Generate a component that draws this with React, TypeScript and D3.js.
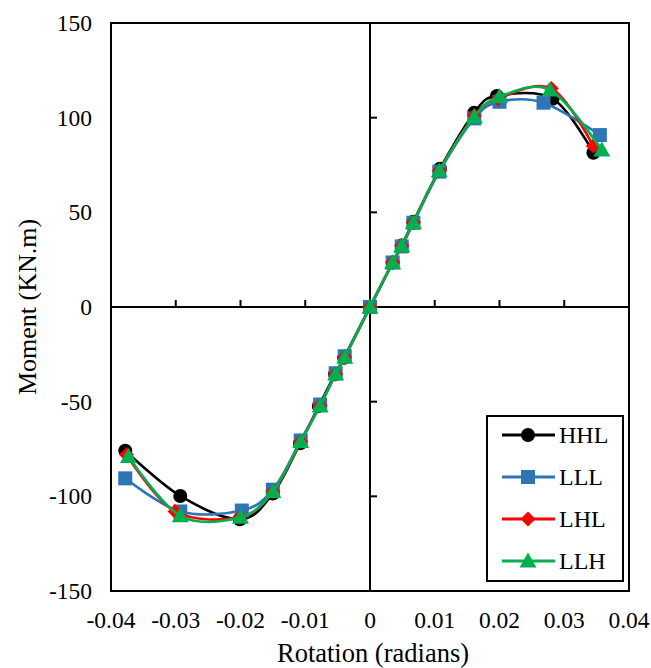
import React from "react";
import * as d3 from "d3";

const xTicks = [-0.04, -0.03, -0.02, -0.01, 0, 0.01, 0.02, 0.03, 0.04];
const xTickLabels = ["-0.04", "-0.03", "-0.02", "-0.01", "0", "0.01", "0.02", "0.03", "0.04"];
const yTicks = [-150, -100, -50, 0, 50, 100, 150];
const yTickLabels = ["-150", "-100", "-50", "0", "50", "100", "150"];

const seriesNames = ["HHL", "LLL", "LHL", "LLH"];
const seriesColors = ["#000000", "#2E75B6", "#FF0000", "#00B050"];
const seriesMarkers = ["circle", "square", "diamond", "triangle"];

const hhlX = [-0.0378, -0.0293, -0.0201, -0.0150, -0.0108, -0.0079, -0.0054, -0.0040, 0, 0.0035, 0.0049, 0.0067, 0.0108, 0.0161, 0.0196, 0.0282, 0.0345];
const hhlY = [-75.9, -99.8, -112.1, -98.5, -72, -52.3, -35.5, -26.8, 0, 23.5, 32.5, 45, 73, 102.6, 111.5, 110, 81.5];
const lllX = [-0.0378, -0.0293, -0.0198, -0.0150, -0.0107, -0.0077, -0.0053, -0.0039, 0, 0.0035, 0.0049, 0.0067, 0.0107, 0.0161, 0.0200, 0.0268, 0.0355];
const lllY = [-90.5, -108, -107.5, -96.5, -70.5, -51.5, -35, -26, 0, 23.5, 32, 44.5, 71.5, 99.6, 108.4, 107.9, 90.8];
const lhlX = [-0.0376, -0.0301, -0.0201, -0.0150, -0.0107, -0.0077, -0.0053, -0.0039, 0, 0.0035, 0.0049, 0.0067, 0.0107, 0.0161, 0.0198, 0.0280, 0.0345];
const lhlY = [-78, -108, -111, -97.5, -71, -52, -35.4, -26.6, 0, 23.5, 32.2, 44.5, 72, 101, 110, 115.4, 85];
const llhX = [-0.0373, -0.0293, -0.0200, -0.0150, -0.0107, -0.0077, -0.0053, -0.0039, 0, 0.0035, 0.0049, 0.0067, 0.0107, 0.0161, 0.0200, 0.0278, 0.0358];
const llhY = [-79, -110.3, -111, -97.5, -71, -52.3, -35.4, -26.6, 0, 23.4, 32.2, 44.5, 72, 100.5, 111, 114.6, 82.9];

const seriesX = [hhlX, lllX, lhlX, llhX];
const seriesY = [hhlY, lllY, lhlY, llhY];

const W = 651;
const H = 668;
const left = 111;
const right = 629;
const top = 23;
const bottom = 591;

const font = "'Liberation Serif', 'Times New Roman', serif";

function Marker({ type, x, y, color }: { type: string; x: number; y: number; color: string }) {
  if (type === "circle") return <circle cx={x} cy={y} r={7} fill={color} />;
  if (type === "square") return <rect x={x - 7} y={y - 7} width={14} height={14} fill={color} />;
  if (type === "diamond")
    return <path d={`M${x},${y - 7.5}L${x + 7.5},${y}L${x},${y + 7.5}L${x - 7.5},${y}Z`} fill={color} />;
  return <path d={`M${x},${y - 8.5}L${x + 8.5},${y + 6.5}L${x - 8.5},${y + 6.5}Z`} fill={color} />;
}

export default function App() {
  const xs = d3.scaleLinear().domain([-0.04, 0.04]).range([left, right]);
  const ys = d3.scaleLinear().domain([-150, 150]).range([bottom, top]);
  const line = d3
    .line<[number, number]>()
    .x((d) => xs(d[0]))
    .y((d) => ys(d[1]))
    .curve(d3.curveCardinal.tension(0));

  const x0 = xs(0);
  const y0 = ys(0);

  const legendX = 487;
  const legendY = 416;
  const legendW = 136;
  const legendH = 165;
  const rowY = [435, 477, 519, 561];

  return (
    <svg width={W} height={H} style={{ position: "absolute", left: 0, top: 0, background: "#fff" }}>
      <rect x={0} y={0} width={W} height={H} fill="#fff" />
      <rect x={left} y={top} width={right - left} height={bottom - top} fill="none" stroke="#000" strokeWidth={2} />
      <line x1={left} x2={right} y1={y0} y2={y0} stroke="#000" strokeWidth={2} />
      <line x1={x0} x2={x0} y1={top} y2={bottom} stroke="#000" strokeWidth={2} />
      {xTicks.map((t) => (
        <line key={"xt" + t} x1={xs(t)} x2={xs(t)} y1={y0} y2={y0 - 7} stroke="#000" strokeWidth={2} />
      ))}
      {yTicks.map((t) => (
        <line key={"yt" + t} x1={x0} x2={x0 + 7} y1={ys(t)} y2={ys(t)} stroke="#000" strokeWidth={2} />
      ))}
      {xTicks.map((t, i) => (
        <text key={"xl" + t} x={xs(t)} y={628} textAnchor="middle" fontFamily={font} fontSize={23.5} fill="#000">
          {xTickLabels[i]}
        </text>
      ))}
      {yTicks.map((t, i) => (
        <text key={"yl" + t} x={92} y={ys(t) + 8} textAnchor="end" fontFamily={font} fontSize={23.5} fill="#000">
          {yTickLabels[i]}
        </text>
      ))}
      <text x={x0 + 3} y={662} textAnchor="middle" fontFamily={font} fontSize={26.5} fill="#000">
        Rotation (radians)
      </text>
      <text
        transform={`translate(36,${(top + bottom) / 2}) rotate(-90)`}
        textAnchor="middle"
        fontFamily={font}
        fontSize={26}
        fill="#000"
      >
        Moment (KN.m)
      </text>
      {seriesNames.map((name, si) => {
        const pts: [number, number][] = seriesX[si].map((x, i) => [x, seriesY[si][i]]);
        return (
          <g key={name}>
            <path d={line(pts) || ""} fill="none" stroke={seriesColors[si]} strokeWidth={2.6} />
            {pts.map((p, i) => (
              <Marker key={i} type={seriesMarkers[si]} x={xs(p[0])} y={ys(p[1])} color={seriesColors[si]} />
            ))}
          </g>
        );
      })}
      <rect x={legendX} y={legendY} width={legendW} height={legendH} fill="#fff" stroke="#000" strokeWidth={2} />
      {seriesNames.map((name, si) => (
        <g key={"lg" + name}>
          <line x1={502} x2={555} y1={rowY[si]} y2={rowY[si]} stroke={seriesColors[si]} strokeWidth={2.8} />
          <Marker type={seriesMarkers[si]} x={528} y={rowY[si]} color={seriesColors[si]} />
          <text x={559} y={rowY[si] + 8} fontFamily={font} fontSize={24} fill="#000">
            {name}
          </text>
        </g>
      ))}
    </svg>
  );
}
